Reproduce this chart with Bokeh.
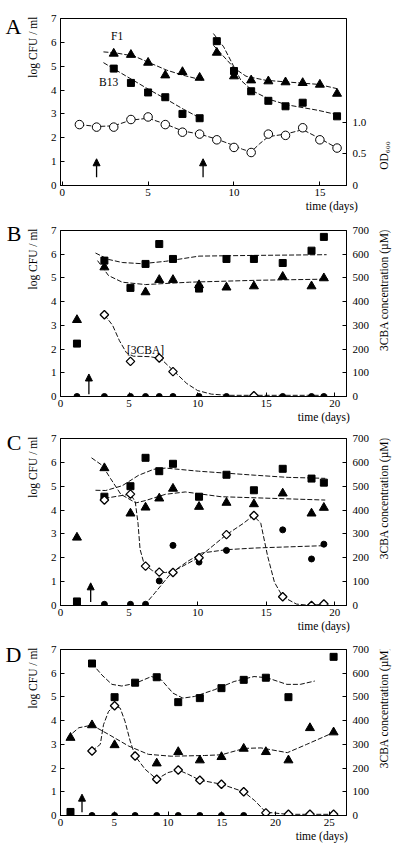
import math
from bokeh.plotting import figure
from bokeh.models import Range1d, LinearAxis, FixedTicker, Label, Arrow, NormalHead
from bokeh.layouts import column, row
from bokeh.embed import file_html
from bokeh.resources import INLINE

FONT = "Liberation Serif"

# ---------------- Panel A ----------------
A_od_days = [1, 2, 3, 4, 5, 6, 7, 8, 9, 10, 11, 12, 13, 14, 15, 16]
A_od = [0.96, 0.92, 0.92, 1.04, 1.08, 0.96, 0.84, 0.81, 0.72, 0.60, 0.52, 0.81, 0.79, 0.91, 0.72, 0.59]
A_f1_days = [3, 4, 5, 6, 7, 8, 9, 10, 11, 12, 13, 14, 15, 16]
A_f1 = [5.53, 5.48, 5.15, 4.62, 4.76, 4.52, 5.57, 4.58, 4.41, 4.37, 4.33, 4.3, 4.23, 3.85]
A_b13_days = [3, 4, 5, 6, 7, 8, 9, 10, 11, 12, 13, 14, 16]
A_b13 = [4.9, 4.3, 3.9, 3.7, 3.0, 2.82, 6.05, 4.8, 3.95, 3.55, 3.32, 3.47, 2.9]
A_f1_fit1_x = [2.4, 3.1, 4.2, 5.1, 6.1, 7.05, 8.2]
A_f1_fit1_y = [5.6, 5.56, 5.42, 5.14, 4.83, 4.62, 4.41]
A_f1_fit2_x = [8.8, 9.6, 10.05, 10.7, 11.85, 13.8, 14.9, 16.0]
A_f1_fit2_y = [5.88, 5.25, 4.9, 4.58, 4.41, 4.3, 4.24, 4.06]
A_b13_fit1_x = [2.4, 3.1, 4.16, 5.1, 6.1, 7.05, 8.1]
A_b13_fit1_y = [5.15, 4.85, 4.4, 4.0, 3.6, 3.2, 2.8]
A_b13_fit2_x = [8.8, 9.4, 10.0, 10.4, 11.1, 12.1, 13.1, 14.9, 16.0]
A_b13_fit2_y = [6.37, 5.81, 4.97, 4.41, 3.96, 3.6, 3.38, 3.15, 2.97]
A_od_fit_x = [1, 2, 3, 4, 5, 6, 7, 8, 9, 10, 10.5, 11, 11.5, 12, 13, 14, 15, 16]
A_od_fit_y = [0.96, 0.93, 0.94, 1.03, 1.06, 0.97, 0.86, 0.81, 0.73, 0.63, 0.57, 0.53, 0.66, 0.77, 0.81, 0.88, 0.74, 0.59]
A_arrow_days = [2.0, 8.2]
A_x_ticks = [0, 5, 10, 15]
A_od_ticks = [0, 0.5, 1.0]
A_od_tick_labels = ["0", "0.5", "1.0"]

# ---------------- Panel B ----------------
B_days = [1.2, 3.2, 5.1, 6.2, 7.2, 8.2, 10.1, 12.1, 14.1, 16.2, 18.3, 19.2]
B_sq = [2.23, 5.73, 4.58, 5.59, 6.43, 5.8, 4.55, 5.8, 5.8, 5.63, 6.15, 6.73]
B_tri_days = [1.2, 3.2, 6.2, 7.2, 8.2, 10.1, 12.1, 14.1, 16.2, 18.3, 19.2]
B_tri = [3.23, 5.45, 4.4, 4.92, 4.92, 4.7, 4.6, 4.65, 5.05, 4.65, 4.99]
B_circ_days = [1.2, 3.2, 5.1, 6.2, 7.2, 8.2, 10.1, 12.1, 16.2, 18.3, 19.2]
B_circ = [0, 0, 0, 0, 0, 0, 0, 0, 0, 0, 0]
B_dia_days = [3.2, 5.1, 7.2, 8.2, 14.1]
B_dia = [345, 148, 162, 105, 3]
B_sq_fit_x = [2.55, 3.5, 4.5, 5.95, 7.65, 10.1, 14.2, 19.4]
B_sq_fit_y = [6.05, 5.78, 5.65, 5.6, 5.7, 5.92, 5.95, 5.98]
B_tri_fit_x = [2.7, 3.5, 4.5, 6.2, 9.4, 14.25, 19.5]
B_tri_fit_y = [5.73, 5.1, 4.82, 4.72, 4.82, 4.9, 4.95]
B_dia_fit_x = [3.2, 3.8, 4.3, 4.8, 5.3, 6.5, 7.3, 8.3, 9.2, 10.0, 11.0, 12.2, 14.0, 16.0, 18.0, 19.5]
B_dia_fit_y = [345, 300, 235, 185, 170, 168, 160, 105, 55, 25, 10, 5, 5, 5, 5, 5]
B_arrow_day = 2.07

# ---------------- Panel C ----------------
C_days = [1.2, 3.2, 5.1, 6.2, 7.2, 8.2, 10.1, 12.1, 14.1, 16.2, 18.3, 19.2]
C_sq = [0.17, 4.56, 5.0, 6.19, 5.63, 5.94, 4.56, 5.48, 4.83, 5.73, 5.32, 5.15]
C_tri = [2.85, 5.76, 3.86, 4.11, 4.49, 4.9, 4.14, 4.31, 4.25, 4.7, 3.86, 4.1]
C_circ_days = [1.2, 3.2, 5.1, 6.2, 7.2, 8.2, 10.1, 12.1, 16.2, 18.3, 19.2]
C_circ = [0.05, 0.05, 0.05, 0.05, 1.03, 2.52, 1.82, 2.31, 3.17, 1.95, 2.57]
C_dia_days = [3.2, 5.1, 6.2, 7.2, 8.2, 10.1, 12.1, 14.1, 16.2, 18.3, 19.2]
C_dia = [442, 467, 165, 140, 138, 200, 297, 377, 37, 0, 6]
C_sq_fit_x = [2.55, 3.3, 4.5, 5.7, 6.8, 7.65, 10.05, 14.2, 16.6, 19.3]
C_sq_fit_y = [4.83, 4.82, 5.02, 5.46, 5.71, 5.76, 5.63, 5.46, 5.37, 5.33]
C_tri_fit_x = [2.26, 3.05, 3.65, 4.4, 5.5, 6.2, 7.65, 9.1, 11.7, 19.3]
C_tri_fit_y = [6.19, 5.87, 5.32, 4.66, 4.3, 4.4, 4.66, 4.76, 4.56, 4.42]
C_dia_fit_x = [3.2, 5.1, 5.45, 5.65, 5.8, 6.1, 6.7, 7.65, 8.4, 10.05, 12.1, 13.3, 14.06, 14.6, 15.1, 15.6, 16.2, 17.2, 18.25, 19.2]
C_dia_fit_y = [449, 467, 435, 345, 236, 173, 146, 138, 149, 200, 297, 343, 377, 345, 207, 97, 37, 6, 0, 6]
C_circ_fit_x = [6.1, 6.9, 8.1, 9.3, 10.3, 12.1, 14.2, 19.3]
C_circ_fit_y = [0, 0.54, 1.38, 1.86, 2.2, 2.34, 2.41, 2.51]
C_arrow_day = 2.2

# ---------------- Panel D ----------------
D_days = [0.93, 2.93, 5.03, 6.94, 8.95, 10.95, 12.96, 14.97, 17.04, 19.1, 21.2, 23.2, 25.4]
D_sq_days = [0.93, 2.93, 5.03, 6.94, 8.95, 10.95, 12.96, 14.97, 17.04, 19.1, 21.2, 25.4]
D_sq = [0.15, 6.41, 4.99, 5.6, 5.83, 4.78, 4.95, 5.37, 5.72, 5.81, 4.99, 6.69]
D_tri_days = [0.93, 2.93, 5.03, 8.95, 10.95, 12.96, 14.97, 17.04, 19.1, 21.2, 23.2, 25.4]
D_tri = [3.28, 3.81, 2.97, 2.2, 2.68, 2.33, 2.47, 2.82, 2.68, 2.33, 3.69, 3.51]
D_circ = [0, 0, 0, 0, 0, 0, 0, 0, 0, 0, 0, 0, 0]
D_dia_days = [2.93, 5.03, 6.94, 8.95, 10.95, 12.96, 14.97, 17.04, 19.1, 21.2, 23.2, 25.4]
D_dia = [272, 463, 251, 153, 192, 149, 132, 100, 11, 5, 5, 5]
D_sq_fit_x = [2.93, 3.86, 4.78, 5.7, 6.94, 8.46, 9.38, 10.46, 11.38, 12.46, 14.3, 16.15, 18.0, 19.2, 21.05, 22.3, 23.65]
D_sq_fit_y = [6.41, 5.92, 5.53, 5.46, 5.57, 5.86, 5.72, 5.16, 4.95, 5.02, 5.3, 5.65, 5.86, 5.81, 5.53, 5.53, 5.67]
D_tri_fit_x = [0.62, 1.7, 2.93, 4.47, 6.33, 8.17, 10.3, 13.4, 14.97, 17.1, 18.65, 21.1, 22.9, 25.4]
D_tri_fit_y = [3.28, 3.7, 3.81, 3.42, 2.93, 2.58, 2.5, 2.53, 2.56, 2.83, 2.85, 2.65, 3.0, 3.5]
D_dia_fit_x = [2.93, 3.7, 4.0, 4.47, 5.03, 5.55, 6.0, 6.48, 6.94, 7.87, 8.95, 10.0, 10.95, 11.87, 12.96, 14.97, 17.04, 18.06, 19.1, 21.1, 25.4]
D_dia_fit_y = [272, 300, 383, 439, 463, 453, 397, 314, 251, 195, 153, 181, 192, 174, 149, 132, 100, 63, 14, 5, 5]
D_arrow_day = 2.0

BC_x_ticks = [0, 5, 10, 15, 20]
D_x_ticks = [0, 5, 10, 15, 20, 25]
log_ticks = [0, 1, 2, 3, 4, 5, 6, 7]
conc_ticks = [0, 100, 200, 300, 400, 500, 600, 700]

Y_LABEL = "log CFU / ml"
CONC_LABEL = "3CBA concentration (µM)"
OD_LABEL = "OD₆₀₀"
X_LABEL = "time (days)"

DASH = "5 2"
LC = "#111111"


def style_axis(ax):
    ax.axis_line_color = "black"
    ax.axis_line_width = 1
    ax.major_tick_line_color = "black"
    ax.major_tick_in = 4
    ax.major_tick_out = 0
    ax.minor_tick_in = 0
    ax.minor_tick_out = 0
    ax.major_label_text_font = FONT
    ax.major_label_text_font_size = "11px"
    ax.major_label_text_color = "black"
    ax.major_label_standoff = 4


def text_axis(p, side, pos, text, size, standoff, orientation):
    """An axis with no line and no tick marks, used only to place one text beside a frame."""
    ax = LinearAxis(ticker=FixedTicker(ticks=[pos]), major_label_overrides={pos: text})
    ax.axis_line_color = None
    ax.major_tick_line_color = None
    ax.minor_tick_line_color = None
    ax.major_tick_in = 0
    ax.major_tick_out = 0
    ax.minor_tick_in = 0
    ax.minor_tick_out = 0
    ax.major_label_text_font = FONT
    ax.major_label_text_font_size = size
    ax.major_label_text_color = "black"
    ax.major_label_standoff = standoff
    ax.major_label_orientation = orientation
    p.add_layout(ax, side)


def make_fig(xmin, xmax, xticks, top, bottom, fh, extra):
    p = figure(frame_width=286, frame_height=fh,
               x_range=Range1d(xmin, xmax), y_range=Range1d(0, 7),
               extra_y_ranges=extra,
               output_backend="svg", toolbar_location=None,
               min_border_left=60, min_border_right=26,
               min_border_top=top, min_border_bottom=bottom,
               background_fill_color="white", border_fill_color="white")
    p.xgrid.visible = False
    p.ygrid.visible = False
    p.outline_line_color = "black"
    p.outline_line_width = 1
    p.xaxis.ticker = FixedTicker(ticks=xticks)
    p.yaxis.ticker = FixedTicker(ticks=log_ticks)
    style_axis(p.xaxis[0])
    style_axis(p.yaxis[0])
    p.xaxis[0].major_label_standoff = 3
    return p


def strip(top, bottom, fh, text, y):
    """Narrow plot to the right of a panel; its frame carries the upward-reading right-hand title."""
    s = figure(frame_width=22, frame_height=fh,
               x_range=Range1d(0, 1), y_range=Range1d(0, 7),
               x_axis_type=None, y_axis_type=None,
               output_backend="svg", toolbar_location=None,
               min_border_left=0, min_border_right=0,
               min_border_top=top, min_border_bottom=bottom,
               background_fill_color="white", border_fill_color="white")
    s.outline_line_color = None
    s.add_layout(Label(x=0.5, y=y, text=text, angle=math.pi / 2,
                       text_font=FONT, text_font_size="11.5px", text_color="black",
                       text_align="center", text_baseline="middle"))
    return s


def txt(p, x, y, s, size="11.5px"):
    p.add_layout(Label(x=x, y=y, text=s, text_font=FONT, text_font_size=size,
                       text_color="black", text_align="center", text_baseline="middle"))


def arrow(p, x, y0, y1):
    p.add_layout(Arrow(end=NormalHead(size=7, fill_color="black", line_color="black"),
                       x_start=x, y_start=y0, x_end=x, y_end=y1,
                       line_color="black", line_width=1.3))


def dashed(p, xs, ys, rn="default"):
    p.line(xs, ys, line_dash=DASH, line_color=LC, line_width=1, y_range_name=rn)


def squares(p, xs, ys):
    p.scatter(xs, ys, marker="square", size=7, fill_color="black", line_color="black")


def triangles(p, xs, ys):
    p.scatter(xs, ys, marker="triangle", size=9, fill_color="black", line_color="black")


def dots(p, xs, ys):
    p.scatter(xs, ys, marker="circle", size=6, fill_color="black", line_color="black")


def diamonds(p, xs, ys):
    p.scatter(xs, ys, marker="square", angle=math.pi / 4, size=6, fill_color="white",
              line_color="black", line_width=1.3, y_range_name="conc")


def conc_axis(p):
    ax = LinearAxis(y_range_name="conc", ticker=FixedTicker(ticks=conc_ticks))
    style_axis(ax)
    ax.major_label_standoff = 6
    p.add_layout(ax, "right")


def side_texts(p, letter, letter_y, time_x):
    text_axis(p, "left", 5.8, Y_LABEL, "11.5px", 8, "vertical")
    text_axis(p, "left", letter_y, letter, "22px", 3, "horizontal")
    text_axis(p, "below", time_x, X_LABEL, "11.5px", 1, "horizontal")


# ---------- A ----------
pA = make_fig(-0.1, 16.55, A_x_ticks, 18, 27, 167, {"od": Range1d(0, 7 / 2.66)})
axA = LinearAxis(y_range_name="od", ticker=FixedTicker(ticks=A_od_ticks),
                 major_label_overrides={t: s for t, s in zip(A_od_ticks, A_od_tick_labels)})
style_axis(axA)
axA.major_label_standoff = 6
pA.add_layout(axA, "right")
dashed(pA, A_f1_fit1_x, A_f1_fit1_y)
dashed(pA, A_f1_fit2_x, A_f1_fit2_y)
dashed(pA, A_b13_fit1_x, A_b13_fit1_y)
dashed(pA, A_b13_fit2_x, A_b13_fit2_y)
dashed(pA, A_od_fit_x, A_od_fit_y, "od")
pA.scatter(A_od_days, A_od, marker="circle", size=8.5, fill_color="white",
           line_color="black", line_width=1, y_range_name="od")
triangles(pA, A_f1_days, A_f1)
squares(pA, A_b13_days, A_b13)
for d in A_arrow_days:
    arrow(pA, d, 0.35, 1.12)
txt(pA, 3.2, 6.26, "F1")
txt(pA, 2.7, 4.34, "B13")
side_texts(pA, "A", 6.68, 15.7)
sA = strip(18, 27, 167, OD_LABEL, 1.26)

# ---------- B ----------
pB = make_fig(0, 20.85, BC_x_ticks, 16, 24, 166, {"conc": Range1d(0, 700)})
conc_axis(pB)
dashed(pB, B_sq_fit_x, B_sq_fit_y)
dashed(pB, B_tri_fit_x, B_tri_fit_y)
dashed(pB, B_dia_fit_x, B_dia_fit_y, "conc")
squares(pB, B_days, B_sq)
triangles(pB, B_tri_days, B_tri)
diamonds(pB, B_dia_days, B_dia)
dots(pB, B_circ_days, B_circ)
arrow(pB, B_arrow_day, 0.1, 0.95)
txt(pB, 6.2, 1.98, "[3CBA]")
side_texts(pB, "B", 6.87, 19.2)
sB = strip(16, 24, 166, CONC_LABEL, 4.5)

# ---------- C ----------
pC = make_fig(0, 20.85, BC_x_ticks, 13, 24, 167, {"conc": Range1d(0, 700)})
conc_axis(pC)
dashed(pC, C_sq_fit_x, C_sq_fit_y)
dashed(pC, C_tri_fit_x, C_tri_fit_y)
dashed(pC, C_dia_fit_x, C_dia_fit_y, "conc")
dashed(pC, C_circ_fit_x, C_circ_fit_y)
dots(pC, C_circ_days, C_circ)
squares(pC, C_days, C_sq)
triangles(pC, C_days, C_tri)
diamonds(pC, C_dia_days, C_dia)
arrow(pC, C_arrow_day, 0.15, 0.95)
side_texts(pC, "C", 6.85, 19.2)
sC = strip(13, 24, 167, CONC_LABEL, 4.5)

# ---------- D ----------
pD = make_fig(0, 26.6, D_x_ticks, 15, 33, 166, {"conc": Range1d(0, 700)})
conc_axis(pD)
dashed(pD, D_sq_fit_x, D_sq_fit_y)
dashed(pD, D_tri_fit_x, D_tri_fit_y)
dashed(pD, D_dia_fit_x, D_dia_fit_y, "conc")
dots(pD, D_days, D_circ)
squares(pD, D_sq_days, D_sq)
triangles(pD, D_tri_days, D_tri)
diamonds(pD, D_dia_days, D_dia)
arrow(pD, D_arrow_day, 0.14, 0.9)
side_texts(pD, "D", 6.81, 24.3)
sD = strip(15, 33, 166, CONC_LABEL, 4.57)

layout = column(row(pA, sA, spacing=0), row(pB, sB, spacing=0),
                row(pC, sC, spacing=0), row(pD, sD, spacing=0), spacing=0)
open("out.html", "w").write(file_html(layout, INLINE))
